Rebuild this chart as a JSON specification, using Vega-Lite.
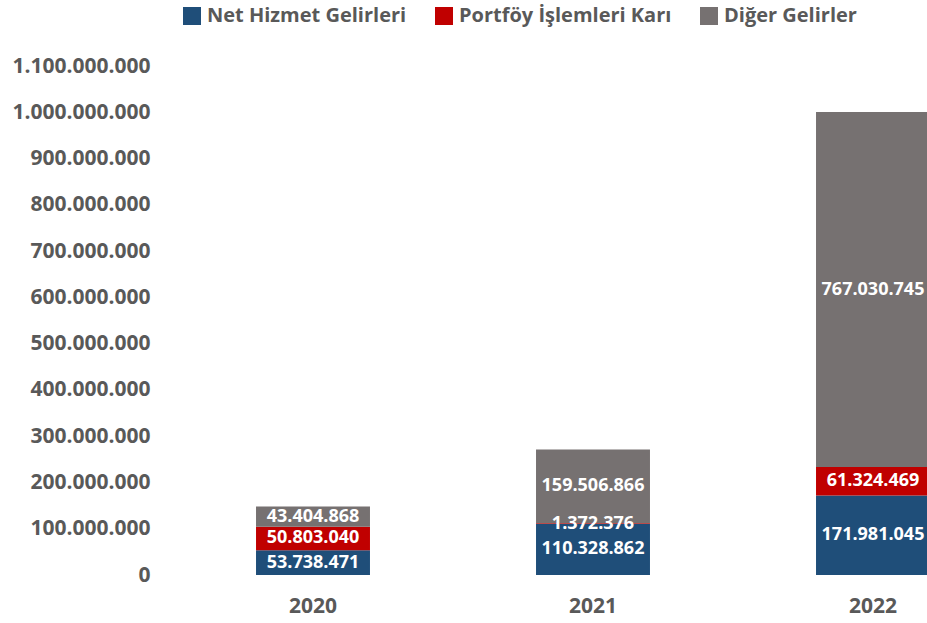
{
  "$schema": "https://vega.github.io/schema/vega-lite/v6.json",
  "autosize": {"type": "none"},
  "width": 754,
  "height": 509,
  "padding": {"left": 173, "top": 66, "right": 0, "bottom": 48},
  "background": "white",
  "config": {
    "locale": {"number": {"decimal": ",", "thousands": ".", "grouping": [3], "currency": ["", ""]}},
    "view": {"stroke": null},
    "font": "Open Sans"
  },
  "data": {
    "values": [
      {"yil": "2020", "seri": "Net Hizmet Gelirleri", "sira": 1, "deger": 53738471},
      {"yil": "2020", "seri": "Portföy İşlemleri Karı", "sira": 2, "deger": 50803040},
      {"yil": "2020", "seri": "Diğer Gelirler", "sira": 3, "deger": 43404868},
      {"yil": "2021", "seri": "Net Hizmet Gelirleri", "sira": 1, "deger": 110328862},
      {"yil": "2021", "seri": "Portföy İşlemleri Karı", "sira": 2, "deger": 1372376},
      {"yil": "2021", "seri": "Diğer Gelirler", "sira": 3, "deger": 159506866},
      {"yil": "2022", "seri": "Net Hizmet Gelirleri", "sira": 1, "deger": 171981045},
      {"yil": "2022", "seri": "Portföy İşlemleri Karı", "sira": 2, "deger": 61324469},
      {"yil": "2022", "seri": "Diğer Gelirler", "sira": 3, "deger": 767030745}
    ]
  },
  "transform": [
    {"stack": "deger", "groupby": ["yil"], "sort": [{"field": "sira", "order": "ascending"}], "as": ["alt", "ust"]},
    {"calculate": "(datum.alt + datum.ust) / 2", "as": "orta"}
  ],
  "encoding": {
    "x": {
      "field": "yil",
      "type": "ordinal",
      "scale": {"range": [0, 840], "paddingInner": 0.593, "paddingOuter": 0.2965},
      "axis": {
        "title": null,
        "domain": false,
        "ticks": false,
        "tickSize": 0,
        "labelAngle": 0,
        "labelFontSize": 21,
        "labelFontWeight": "bold",
        "labelColor": "#595959",
        "labelPadding": 20
      }
    }
  },
  "layer": [
    {
      "mark": {"type": "bar"},
      "encoding": {
        "y": {
          "field": "alt",
          "type": "quantitative",
          "scale": {"domain": [0, 1100000000], "nice": false},
          "axis": {
            "title": null,
            "grid": false,
            "domain": false,
            "ticks": false,
            "tickSize": 0,
            "values": [0, 100000000, 200000000, 300000000, 400000000, 500000000, 600000000, 700000000, 800000000, 900000000, 1000000000, 1100000000],
            "format": ",d",
            "labelFontSize": 21,
            "labelFontWeight": "bold",
            "labelColor": "#595959",
            "labelPadding": 23
          }
        },
        "y2": {"field": "ust"},
        "color": {
          "field": "seri",
          "type": "nominal",
          "scale": {
            "domain": ["Net Hizmet Gelirleri", "Portföy İşlemleri Karı", "Diğer Gelirler"],
            "range": ["#1F4E79", "#C00000", "#767171"]
          },
          "legend": {
            "title": null,
            "orient": "none",
            "direction": "horizontal",
            "legendX": 9,
            "legendY": -60,
            "symbolType": "square",
            "symbolSize": 324,
            "symbolStrokeWidth": 0,
            "labelFontSize": 20,
            "labelFontWeight": "bold",
            "labelColor": "#595959",
            "labelOffset": 5,
            "columnPadding": 27,
            "labelLimit": 400
          }
        }
      }
    },
    {
      "mark": {"type": "text", "color": "white", "fontWeight": "bold", "fontSize": 18},
      "encoding": {
        "y": {"field": "orta", "type": "quantitative"},
        "text": {"field": "deger", "type": "quantitative", "format": ",d"}
      }
    }
  ]
}
